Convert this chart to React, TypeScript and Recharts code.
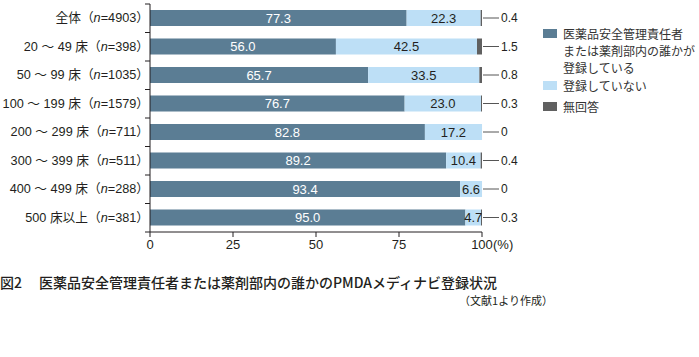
import React from 'react';
import { BarChart, Bar, XAxis, YAxis, LabelList } from 'recharts';

const categories = ['全体', '20 ～ 49 床', '50 ～ 99 床', '100 ～ 199 床', '200 ～ 299 床', '300 ～ 399 床', '400 ～ 499 床', '500 床以上'];
const counts = [4903, 398, 1035, 1579, 711, 511, 288, 381];
const registered = [77.3, 56.0, 65.7, 76.7, 82.8, 89.2, 93.4, 95.0];
const notRegistered = [22.3, 42.5, 33.5, 23.0, 17.2, 10.4, 6.6, 4.7];
const noAnswer = [0.4, 1.5, 0.8, 0.3, 0, 0.4, 0, 0.3];
const xTicks = [0, 25, 50, 75, 100];

const data = categories.map((name, i) => ({
  name,
  n: counts[i],
  registered: registered[i],
  notRegistered: notRegistered[i],
  noAnswer: noAnswer[i],
}));

const DARK = '#5b7d94';
const LIGHT = '#bddff6';
const GRAY = '#606060';
const INK = '#231f20';
const FONT = "'Liberation Sans', 'Noto Sans CJK JP', sans-serif";
const JP = "'Noto Sans CJK JP', sans-serif";

const fmt = (v: any) => Number(v).toFixed(1);

const CategoryTick = (props: any) => {
  const { x, y, payload, index } = props;
  const half = payload.offset ?? 14.25;
  const row = data.find((d) => d.name === payload.value);
  return (
    <g>
      <line x1={x - 5} x2={x} y1={y - half} y2={y - half} stroke={INK} />
      {index === data.length - 1 && (
        <line x1={x - 5} x2={x} y1={y + half} y2={y + half} stroke={INK} />
      )}
      <text x={x - 1} y={y} textAnchor="end" dominantBaseline="central" fontSize={12.7} fill={INK} fontFamily={FONT}>
        {payload.value}（<tspan fontStyle="italic">n</tspan>={row ? row.n : ''}）
      </text>
    </g>
  );
};

const PercentTick = (props: any) => {
  const { x, y, payload } = props;
  return (
    <g>
      <text x={x} y={y + 5} textAnchor="middle" dominantBaseline="central" fontSize={13} fill={INK} fontFamily={FONT}>
        {payload.value}
      </text>
      {payload.value === 100 && (
        <text x={x + 11} y={y + 5} textAnchor="start" dominantBaseline="central" fontSize={13} fill={INK} fontFamily={FONT}>
          (%)
        </text>
      )}
    </g>
  );
};

const LeaderLabel = (props: any) => {
  const { x, y, width, height, value } = props;
  const end = Number(x) + Number(width);
  const cy = Number(y) + Number(height) / 2;
  return (
    <g>
      <line x1={end + 1} x2={end + 17} y1={cy} y2={cy} stroke="#555" />
      <text x={end + 19} y={cy} dominantBaseline="central" fontSize={12} fill={INK} fontFamily={FONT}>
        {Number(value) === 0 ? '0' : fmt(value)}
      </text>
    </g>
  );
};

const legendItems = [
  { color: DARK, lines: ['医薬品安全管理責任者', 'または薬剤部内の誰かが', '登録している'], top: 25 },
  { color: LIGHT, lines: ['登録していない'], top: 77 },
  { color: GRAY, lines: ['無回答'], top: 98 },
];

export default function App() {
  return (
    <div style={{ position: 'absolute', left: 0, top: 0, width: 699, height: 357, background: '#fff', fontFamily: FONT }}>
      <BarChart
        width={699}
        height={357}
        data={data}
        layout="vertical"
        margin={{ top: 4, right: 217, bottom: 95, left: 0 }}
        barSize={16}
      >
        <XAxis
          type="number"
          domain={[0, 100]}
          ticks={xTicks}
          height={30}
          tickSize={5}
          tickMargin={2}
          stroke={INK}
          tick={<PercentTick />}
        />
        <YAxis
          type="category"
          dataKey="name"
          width={150}
          tickLine={false}
          tickSize={0}
          tickMargin={0}
          stroke={INK}
          tick={<CategoryTick />}
        />
        <Bar dataKey="registered" stackId="a" fill={DARK} isAnimationActive={false}>
          <LabelList dataKey="registered" position="center" fill="#fff" fontSize={13} fontFamily={FONT} formatter={fmt} />
        </Bar>
        <Bar dataKey="notRegistered" stackId="a" fill={LIGHT} isAnimationActive={false}>
          <LabelList dataKey="notRegistered" position="center" fill={INK} fontSize={13} fontFamily={FONT} formatter={fmt} />
        </Bar>
        <Bar dataKey="noAnswer" stackId="a" fill={GRAY} minPointSize={0.01} isAnimationActive={false}>
          <LabelList dataKey="noAnswer" content={<LeaderLabel />} />
        </Bar>
      </BarChart>

      {legendItems.map((item) => (
        <div key={item.color} style={{ position: 'absolute', left: 543, top: item.top, fontFamily: JP, fontSize: 12, lineHeight: '17px', color: '#333' }}>
          <div style={{ position: 'absolute', left: 0, top: 4, width: 14, height: 9, background: item.color }} />
          <div style={{ marginLeft: 20, whiteSpace: 'nowrap' }}>
            {item.lines.map((l) => (
              <div key={l}>{l}</div>
            ))}
          </div>
        </div>
      ))}

      <div style={{ position: 'absolute', left: 0, top: 272, fontFamily: JP, fontSize: 14, fontWeight: 500, color: INK, whiteSpace: 'nowrap', lineHeight: '20px' }}>
        図2<span style={{ marginLeft: 17 }}>医薬品安全管理責任者または薬剤部内の誰かのPMDAメディナビ登録状況</span>
      </div>
      <div style={{ position: 'absolute', right: 699 - 553, top: 292, fontFamily: JP, fontSize: 11, color: INK, whiteSpace: 'nowrap', lineHeight: '16px' }}>
        （文献1より作成）
      </div>
    </div>
  );
}
